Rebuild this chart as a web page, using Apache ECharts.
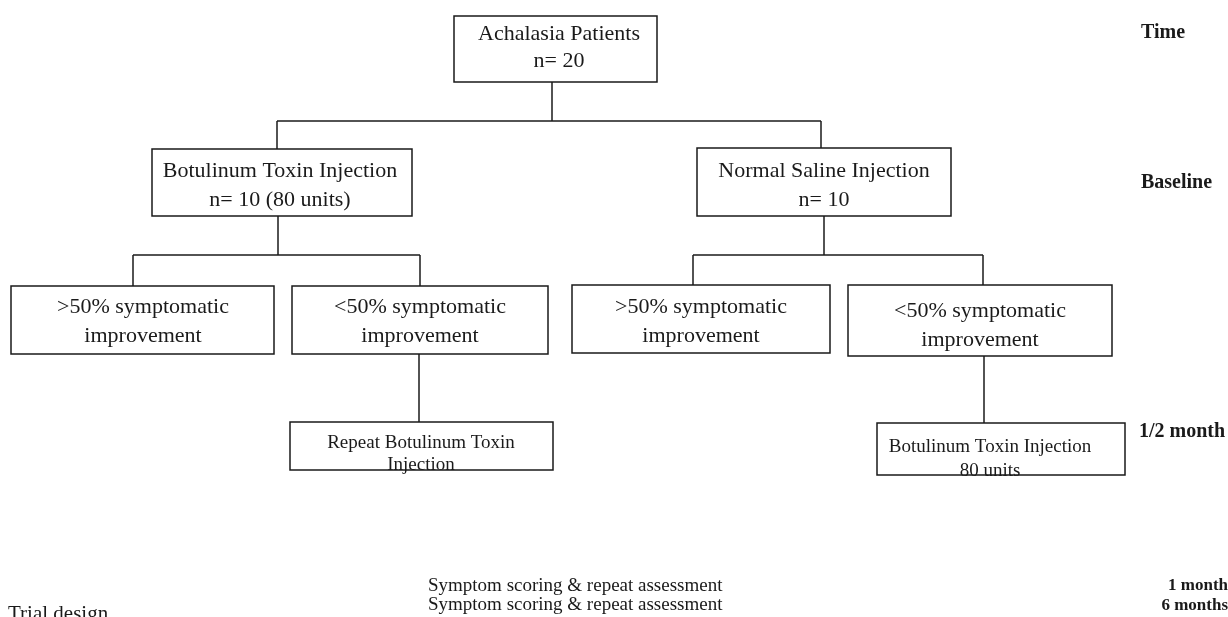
<!DOCTYPE html>
<html lang="en">
<head>
    <meta charset="UTF-8">
    <title>Trial design</title>
    <style>
        html, body { margin: 0; padding: 0; background: #fff; }
    </style>
</head>
<body>
<div id="main" style="width: 1228px;height:617px;"></div>
<script src="https://cdn.jsdelivr.net/npm/echarts@6/dist/echarts.min.js"></script>
<script type="text/javascript">
    // box texts (two lines each)
    var nodeLines = [
        ['Achalasia Patients', 'n= 20'],
        ['Botulinum Toxin Injection', 'n= 10 (80 units)'],
        ['Normal Saline Injection', 'n= 10'],
        ['>50% symptomatic', 'improvement'],
        ['<50% symptomatic', 'improvement'],
        ['>50% symptomatic', 'improvement'],
        ['<50% symptomatic', 'improvement'],
        ['Repeat Botulinum Toxin', 'Injection'],
        ['Botulinum Toxin Injection', '80 units']
    ];
    // parent -> child
    var treeEdges = [[0, 1], [0, 2], [1, 3], [1, 4], [2, 5], [2, 6], [4, 7], [6, 8]];
    var timeLabels = ['Time', 'Baseline', '1/2 month', '1 month', '6 months'];
    var footNotes = ['Symptom scoring & repeat assessment', 'Symptom scoring & repeat assessment'];
    var caption = 'Trial design';

    // ---- layout (pixels) ----
    // box: x0, y0, x1, y1
    var boxes = [
        [454, 16, 657, 82],
        [152, 149, 412, 216],
        [697, 148, 951, 216],
        [11, 286, 274, 354],
        [292, 286, 548, 354],
        [572, 285, 830, 353],
        [848, 285, 1112, 356],
        [290, 422, 553, 470],
        [877, 423, 1125, 475]
    ];
    // text centre x, centre y, line height, font size
    var textPos = [
        [559, 48, 27, 22],
        [280, 186, 29, 22],
        [824, 186, 29, 22],
        [143, 322, 29, 22],
        [420, 322, 29, 22],
        [701, 322, 29, 22],
        [980, 326, 29, 22],
        [421, 454, 22, 19],
        [990, 459, 24, 19]
    ];
    // where the connector leaves (bottom) / enters (top) each box
    var outX = [552, 278, 824, 142, 419, 701, 984, 421, 1001];
    var inX = [552, 277, 821, 133, 420, 693, 983, 419, 984];
    var barY = {0: 121, 1: 255, 2: 255};

    // time labels: x, y, align, size
    var timePos = [[1141, 33, 'left', 20], [1141, 183, 'left', 20], [1139, 432, 'left', 20], [1228, 586, 'right', 17], [1228, 606, 'right', 17]];
    var footPos = [[428, 586], [428, 605]];
    var captionPos = [8, 614];

    var FONT = '"Liberation Serif", "Times New Roman", serif';
    var INK = '#1a1a1a';

    // connectors built from the tree
    var segs = [];
    var kids = {};
    treeEdges.forEach(function (e) {
        (kids[e[0]] = kids[e[0]] || []).push(e[1]);
    });
    Object.keys(kids).forEach(function (k) {
        var p = +k, ch = kids[k];
        var pb = boxes[p][3];
        if (ch.length === 1) {
            segs.push({coords: [[outX[p], pb], [inX[ch[0]], boxes[ch[0]][1]]]});
            return;
        }
        var y = barY[p];
        segs.push({coords: [[outX[p], pb], [outX[p], y]]});
        var xs = ch.map(function (c) { return inX[c]; });
        segs.push({coords: [[Math.min.apply(null, xs), y], [Math.max.apply(null, xs), y]]});
        ch.forEach(function (c) {
            segs.push({coords: [[inX[c], y], [inX[c], boxes[c][1]]]});
        });
    });

    var freeTexts = [];
    timeLabels.forEach(function (t, i) {
        freeTexts.push({value: [timePos[i][0], timePos[i][1]], text: t, align: timePos[i][2], bold: true, size: timePos[i][3]});
    });
    footNotes.forEach(function (t, i) {
        freeTexts.push({value: footPos[i], text: t, align: 'left', bold: false, size: 19});
    });
    freeTexts.push({value: captionPos, text: caption, align: 'left', bold: false, size: 21});

    var myChart = echarts.init(document.getElementById('main'));
    myChart.setOption({
        backgroundColor: '#fff',
        animation: false,
        grid: {left: 0, right: 0, top: 0, bottom: 0},
        xAxis: {type: 'value', min: 0, max: 1228, show: false},
        yAxis: {type: 'value', min: 0, max: 617, inverse: true, show: false},
        series: [
            {
                type: 'lines',
                coordinateSystem: 'cartesian2d',
                polyline: false,
                silent: true,
                lineStyle: {color: INK, width: 1.5, opacity: 1},
                data: segs,
                z: 1
            },
            {
                type: 'custom',
                coordinateSystem: 'cartesian2d',
                silent: true,
                data: boxes.map(function (b, i) { return [b[0], b[1], b[2], b[3], i]; }),
                renderItem: function (params, api) {
                    var i = api.value(4);
                    var p0 = api.coord([api.value(0), api.value(1)]);
                    var p1 = api.coord([api.value(2), api.value(3)]);
                    var tp = textPos[i];
                    var tc = api.coord([tp[0], tp[1]]);
                    return {
                        type: 'group',
                        children: [
                            {
                                type: 'rect',
                                shape: {x: p0[0], y: p0[1], width: p1[0] - p0[0], height: p1[1] - p0[1]},
                                style: {fill: '#fff', stroke: INK, lineWidth: 1.5}
                            },
                            {
                                type: 'text',
                                x: tc[0],
                                y: tc[1],
                                style: {
                                    text: nodeLines[i].join('\n'),
                                    fill: INK,
                                    font: tp[3] + 'px ' + FONT,
                                    lineHeight: tp[2],
                                    align: 'center',
                                    verticalAlign: 'middle'
                                }
                            }
                        ]
                    };
                },
                z: 2
            },
            {
                type: 'custom',
                coordinateSystem: 'cartesian2d',
                silent: true,
                data: freeTexts,
                renderItem: function (params, api) {
                    var d = freeTexts[params.dataIndex];
                    var p = api.coord(d.value);
                    return {
                        type: 'text',
                        x: p[0],
                        y: p[1],
                        style: {
                            text: d.text,
                            fill: INK,
                            font: (d.bold ? 'bold ' : '') + d.size + 'px ' + FONT,
                            align: d.align,
                            verticalAlign: 'middle'
                        }
                    };
                },
                z: 3
            }
        ]
    });
</script>
</body>
</html>
